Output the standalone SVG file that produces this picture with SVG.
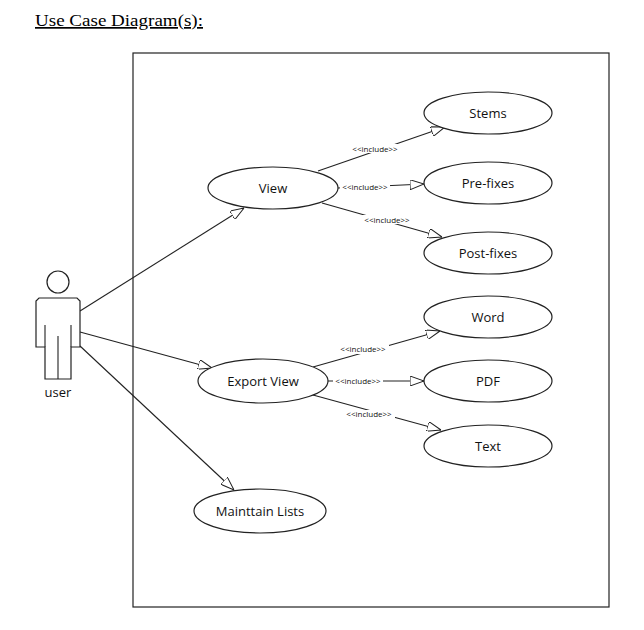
<svg xmlns="http://www.w3.org/2000/svg" width="644" height="630" viewBox="0 0 644 630">
<style>
.s{fill:#fff;stroke:#222;stroke-width:1.2}
.l{stroke:#222;stroke-width:1.1;fill:none}
.t{font-family:"Open Sans","DejaVu Sans",sans-serif;font-size:13px;text-anchor:middle;fill:#111}
.i{font-family:"Open Sans","DejaVu Sans",sans-serif;font-size:8px;text-anchor:middle;fill:#111}
</style>
<defs><marker id="a" viewBox="0 0 14 10" refX="14" refY="5" markerWidth="14" markerHeight="10" markerUnits="userSpaceOnUse" orient="auto"><path d="M0,0L14,5L0,10Z" fill="#fff" stroke="#222"/></marker></defs>
<rect width="644" height="630" fill="#fff"/>
<text x="35" y="26" font-family="Liberation Serif,serif" font-size="17" text-decoration="underline" textLength="168" lengthAdjust="spacingAndGlyphs">Use Case Diagram(s):</text>
<rect x="133" y="53" width="476" height="554" class="s"/>
<g id="connectors">
<line class="l" x1="80" y1="311" x2="244" y2="208" marker-end="url(#a)"/>
<line class="l" x1="80" y1="332" x2="212" y2="368" marker-end="url(#a)"/>
<line class="l" x1="80" y1="346" x2="234" y2="490" marker-end="url(#a)"/>
<line class="l" x1="318" y1="171" x2="445" y2="127" marker-end="url(#a)"/>
<line class="l" x1="338" y1="188" x2="424" y2="184" marker-end="url(#a)"/>
<line class="l" x1="322" y1="203" x2="442" y2="237" marker-end="url(#a)"/>
<line class="l" x1="313" y1="367" x2="440" y2="331" marker-end="url(#a)"/>
<line class="l" x1="327" y1="381" x2="424" y2="381" marker-end="url(#a)"/>
<line class="l" x1="313" y1="395" x2="441" y2="430" marker-end="url(#a)"/>
<g class="i">
<rect x="349" y="144" width="52" height="9" fill="#fff"/><text x="375" y="152">&lt;&lt;include&gt;&gt;</text>
<rect x="340" y="183" width="50" height="9" fill="#fff"/><text x="365" y="190">&lt;&lt;include&gt;&gt;</text>
<rect x="361" y="215" width="52" height="9" fill="#fff"/><text x="387" y="223">&lt;&lt;include&gt;&gt;</text>
<rect x="337" y="345" width="52" height="9" fill="#fff"/><text x="363" y="352">&lt;&lt;include&gt;&gt;</text>
<rect x="333" y="377" width="50" height="9" fill="#fff"/><text x="358" y="384">&lt;&lt;include&gt;&gt;</text>
<rect x="343" y="410" width="52" height="9" fill="#fff"/><text x="369" y="417">&lt;&lt;include&gt;&gt;</text>
</g>
</g>
<g id="user">
<circle cx="58" cy="282" r="11" class="s"/>
<path class="s" d="M39,298H77L80,301V347H71V379H45V347H36V301Z"/>
<path class="l" d="M45,325V347M71,325V347M58,336V379"/>
<text x="58" y="397" class="t">user</text>
</g>
<g id="view"><ellipse cx="273" cy="188" rx="65" ry="21" class="s"/><text x="273" y="193" class="t">View</text></g>
<g id="export"><ellipse cx="263" cy="381" rx="65" ry="22" class="s"/><text x="263" y="386" class="t">Export View</text></g>
<g id="maintain"><ellipse cx="260" cy="511" rx="66" ry="22" class="s"/><text x="260" y="516" class="t">Mainttain Lists</text></g>
<g id="stems"><ellipse cx="488" cy="113" rx="64" ry="21" class="s"/><text x="488" y="118" class="t">Stems</text></g>
<g id="prefixes"><ellipse cx="488" cy="183" rx="64" ry="21" class="s"/><text x="488" y="188" class="t">Pre-fixes</text></g>
<g id="postfixes"><ellipse cx="488" cy="253" rx="64" ry="21" class="s"/><text x="488" y="258" class="t">Post-fixes</text></g>
<g id="word"><ellipse cx="488" cy="317" rx="64" ry="21" class="s"/><text x="488" y="322" class="t">Word</text></g>
<g id="pdf"><ellipse cx="488" cy="381" rx="64" ry="21" class="s"/><text x="488" y="386" class="t">PDF</text></g>
<g id="text"><ellipse cx="488" cy="446" rx="64" ry="21" class="s"/><text x="488" y="451" class="t">Text</text></g>
</svg>
